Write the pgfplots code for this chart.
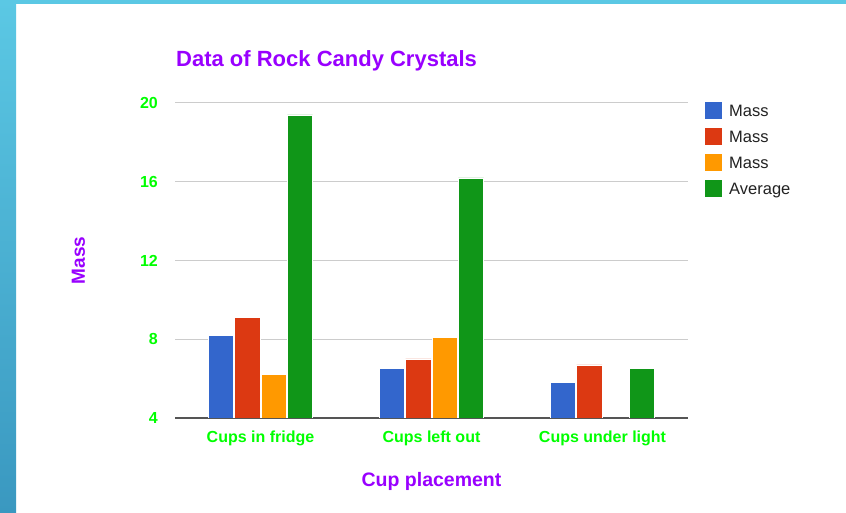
\documentclass[border=0pt]{standalone}
\usepackage{fontspec}
\setmainfont{Liberation Sans}
\usepackage{pgfplots}
\pgfplotsset{compat=1.18}
\definecolor{gblue}{HTML}{3366CC}
\definecolor{gred}{HTML}{DC3912}
\definecolor{gorange}{HTML}{FF9900}
\definecolor{ggreen}{HTML}{109618}
\definecolor{titlepurple}{HTML}{9900FF}
\definecolor{ticklime}{HTML}{00FF00}
\definecolor{gridgray}{HTML}{CCCCCC}
\definecolor{axisgray}{HTML}{555555}
\definecolor{legtext}{HTML}{222222}
\definecolor{slidetop}{HTML}{5BC8E4}
\definecolor{slidebot}{HTML}{3A98C0}
\pgfplotsset{sqlegend/.style={legend image code/.code={\fill[##1,draw=none] (0pt,-2.3pt) rectangle (17pt,14.7pt);}}}
\begin{document}
\begin{tikzpicture}[x=1pt,y=1pt]
\path[use as bounding box] (0,0) rectangle (846,513);
\fill[white] (0,0) rectangle (846,513);
\shade[top color=slidetop,bottom color=slidebot] (0,0) rectangle (16,513);
\fill[slidetop] (0,509) rectangle (846,513);
\begin{axis}[
  at={(175pt,95pt)}, anchor=south west,
  scale only axis, width=513pt, height=315pt,
  xmin=-0.5, xmax=2.5, ymin=4, ymax=20,
  ybar=1pt, bar width=25.3pt,
  xtick={0,1,2}, xticklabels={Cups in fridge,Cups left out,Cups under light},
  ytick={4,8,12,16,20},
  major tick length=0pt,
  ymajorgrids, grid style={gridgray, line width=1pt},
  axis x line*=bottom, axis y line*=left,
  y axis line style={draw=none},
  x axis line style={axisgray, line width=1.3pt, -},
  /pgf/number format/assume math mode=true,
  yticklabel style={font=\fontsize{16}{19}\selectfont\bfseries, text=ticklime, anchor=east, inner sep=0pt, xshift=-17pt},
  xticklabel style={font=\fontsize{16}{19}\selectfont\bfseries, text=ticklime, anchor=base, inner sep=0pt, yshift=-25pt},
  title={Data of Rock Candy Crystals},
  title style={at={(axis description cs:0,1)}, anchor=base west, yshift=30pt, xshift=1pt, inner sep=0pt, font=\fontsize{22}{26}\selectfont\bfseries, text=titlepurple},
  xlabel={Cup placement},
  xlabel style={at={(axis description cs:0.5,0)}, anchor=base, yshift=-69pt, inner sep=0pt, font=\fontsize{19.5}{22}\selectfont\bfseries, text=titlepurple},
  ylabel={Mass},
  ylabel style={at={(axis description cs:0,0.5)}, anchor=base, yshift=90pt, inner sep=0pt, font=\fontsize{19}{22}\selectfont\bfseries, text=titlepurple},
  legend cell align=left,
  legend style={at={(axis description cs:1,1)}, anchor=north west, xshift=17pt, yshift=1pt, draw=none, fill=none, inner sep=0pt, row sep={26pt,between origins}, column sep=7pt, font=\fontsize{16.5}{20}\selectfont, text=legtext, nodes={inner sep=0pt, anchor=base west}},
]
\addplot[fill=gblue, draw=white, line width=0.6pt, sqlegend] coordinates {(0,8.2) (1,6.5) (2,5.8)};
\addplot[fill=gred, draw=white, line width=0.6pt, sqlegend] coordinates {(0,9.1) (1,7.0) (2,6.7)};
\addplot[fill=gorange, draw=white, line width=0.6pt, sqlegend] coordinates {(0,6.2) (1,8.1)};
\addplot[fill=ggreen, draw=white, line width=0.6pt, sqlegend] coordinates {(0,19.4) (1,16.2) (2,6.5)};
\legend{Mass,Mass,Mass,Average}
\end{axis}
\end{tikzpicture}
\end{document}
